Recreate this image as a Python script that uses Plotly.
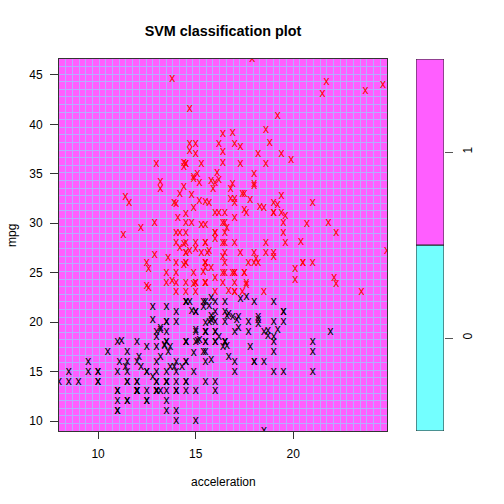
import plotly.graph_objects as go
import numpy as np

# Auto dataset (ISLR), rows with missing horsepower removed: mpg and acceleration
mpg = [
    # 1970
    18, 15, 18, 16, 17, 15, 14, 14, 14, 15, 15, 14, 15, 14, 24, 22, 18, 21, 27, 26, 25, 24, 25, 26, 21, 10, 10, 11, 9,
    # 1971
    27, 28, 25, 19, 16, 17, 19, 18, 14, 14, 14, 14, 12, 13, 13, 18, 22, 19, 18, 23, 28, 30, 30, 31, 35, 27, 26,
    # 1972
    24, 25, 23, 20, 21, 13, 14, 15, 14, 17, 11, 13, 12, 13, 19, 15, 13, 13, 14, 18, 22, 21, 26, 22, 28, 23, 28, 27,
    # 1973
    13, 14, 13, 14, 15, 12, 13, 13, 14, 13, 12, 13, 18, 16, 18, 18, 23, 26, 11, 12, 13, 12, 18, 20, 21, 22, 18, 19,
    21, 26, 15, 16, 29, 24, 20, 19, 15, 24, 20, 11,
    # 1974
    20, 19, 15, 31, 26, 32, 25, 16, 16, 18, 16, 13, 14, 14, 14, 29, 26, 26, 31, 32, 28, 24, 26, 24, 26, 31,
    # 1975
    19, 18, 15, 15, 16, 15, 16, 14, 17, 16, 15, 18, 21, 20, 13, 29, 23, 20, 23, 24, 25, 24, 18, 29, 19, 23, 23, 22,
    25, 33,
    # 1976
    28, 25, 25, 26, 27, 17.5, 16, 15.5, 14.5, 22, 22, 24, 22.5, 29, 24.5, 29, 33, 20, 18, 18.5, 17.5, 29.5, 32, 28,
    26.5, 20, 13, 19, 19, 16.5, 16.5, 13, 13, 13,
    # 1977
    31.5, 30, 36, 25.5, 33.5, 17.5, 17, 15.5, 15, 17.5, 20.5, 19, 18.5, 16, 15.5, 15.5, 16, 29, 24.5, 26, 25.5, 30.5,
    33.5, 30, 30.5, 22, 21.5, 21.5,
    # 1978
    43.1, 36.1, 32.8, 39.4, 36.1, 19.9, 19.4, 20.2, 19.2, 20.5, 20.2, 25.1, 20.5, 19.4, 20.6, 20.8, 18.6, 18.1, 19.2,
    17.7, 18.1, 17.5, 30.0, 27.5, 27.2, 30.9, 21.1, 23.2, 23.8, 23.9, 20.3, 17.0, 21.6, 16.2, 31.5, 29.5,
    # 1979
    21.5, 19.8, 22.3, 20.2, 20.6, 17.0, 17.6, 16.5, 18.2, 16.9, 15.5, 19.2, 18.5, 31.9, 34.1, 35.7, 27.4, 25.4, 23.0,
    27.2, 23.9, 34.2, 34.5, 31.8, 37.3, 28.4, 28.8, 26.8, 33.5,
    # 1980
    41.5, 38.1, 32.1, 37.2, 28.0, 26.4, 24.3, 19.1, 34.3, 29.8, 31.3, 37.0, 32.2, 46.6, 27.9, 40.8, 44.3, 43.4, 36.4,
    30.0, 44.6, 33.8, 29.8, 32.7, 23.7, 35.0, 32.4,
    # 1981
    27.2, 26.6, 25.8, 23.5, 30.0, 39.1, 39.0, 35.1, 32.3, 37.0, 37.7, 34.1, 34.7, 34.4, 29.9, 33.0, 33.7, 32.4, 32.9,
    31.6, 28.1, 30.7, 25.4, 24.2, 22.4, 26.6, 20.2, 17.6,
    # 1982
    28, 27, 34, 31, 29, 27, 24, 36, 37, 31, 38, 36, 36, 36, 34, 38, 32, 38, 25, 38, 26, 22, 32, 36, 27, 27, 44, 32,
    28, 31,
]

acceleration = [
    # 1970
    12.0, 11.5, 11.0, 12.0, 10.5, 10.0, 9.0, 8.5, 10.0, 8.5, 10.0, 8.0, 9.5, 10.0, 15.0, 15.5, 15.5, 16.0, 14.5, 20.5,
    17.5, 14.5, 17.5, 12.5, 15.0, 14.0, 15.0, 13.5, 18.5,
    # 1971
    14.5, 15.5, 14.0, 13.0, 15.5, 15.5, 15.5, 15.5, 12.0, 11.5, 13.5, 13.0, 11.5, 12.0, 12.0, 13.5, 19.0, 15.0, 14.5,
    14.0, 14.0, 19.5, 14.5, 19.0, 18.0, 19.0, 20.5,
    # 1972
    15.5, 17.0, 23.5, 19.5, 16.5, 12.0, 12.0, 13.5, 13.0, 11.5, 11.0, 13.5, 13.5, 12.5, 13.5, 12.5, 14.0, 16.0, 14.0,
    14.5, 18.0, 19.5, 18.0, 16.0, 17.0, 14.5, 15.0, 16.5,
    # 1973
    13.0, 11.5, 13.0, 14.5, 12.5, 11.5, 12.0, 13.0, 14.5, 11.0, 11.0, 11.0, 16.5, 18.0, 16.0, 16.5, 16.0, 21.0, 14.0,
    12.5, 13.0, 12.5, 15.0, 19.0, 19.5, 16.5, 13.5, 18.5, 14.0, 15.5, 13.0, 9.5, 19.5, 15.5, 14.0, 15.5, 11.0, 14.0,
    13.5, 11.0,
    # 1974
    16.5, 16.0, 17.0, 19.0, 16.5, 21.0, 17.0, 17.0, 18.0, 16.5, 14.0, 14.5, 13.5, 16.0, 15.5, 16.5, 15.5, 14.5, 16.5,
    19.0, 14.5, 15.5, 14.0, 15.0, 15.5, 16.0,
    # 1975
    16.0, 16.0, 21.0, 19.5, 11.5, 14.0, 14.5, 13.5, 21.0, 18.5, 19.0, 19.0, 15.0, 13.5, 12.0, 16.0, 17.0, 16.0, 18.5,
    13.5, 16.5, 17.0, 14.5, 14.0, 17.0, 15.0, 17.0, 14.5, 13.5, 17.5,
    # 1976
    15.5, 16.9, 14.9, 17.7, 15.3, 13.0, 13.0, 13.9, 12.8, 15.4, 14.5, 17.6, 17.6, 22.2, 22.1, 14.2, 17.4, 17.7, 21.0,
    16.2, 17.8, 12.2, 17.0, 16.4, 13.6, 15.7, 13.2, 21.9, 15.5, 16.7, 12.1, 12.0, 15.0, 14.0,
    # 1977
    18.5, 14.8, 18.6, 15.5, 16.8, 12.5, 19.0, 13.7, 14.9, 16.4, 16.9, 17.7, 19.0, 11.1, 11.4, 12.2, 14.5, 14.5, 16.0,
    18.2, 15.8, 17.0, 15.9, 16.4, 14.1, 14.5, 12.8, 13.5,
    # 1978
    21.5, 14.4, 19.4, 18.6, 16.4, 15.5, 13.2, 12.8, 19.2, 18.2, 15.8, 15.4, 17.2, 17.2, 15.8, 16.7, 18.7, 15.1, 13.2,
    13.4, 11.2, 13.7, 16.5, 14.2, 14.7, 14.5, 14.8, 16.7, 17.6, 14.9, 15.9, 13.6, 15.7, 15.8, 14.9, 16.6,
    # 1979
    15.4, 18.2, 17.3, 18.2, 16.6, 15.4, 13.4, 13.2, 15.2, 14.9, 14.3, 15.0, 13.0, 14.0, 15.2, 14.4, 15.0, 20.1, 17.4,
    24.8, 22.2, 13.2, 14.9, 19.2, 14.7, 16.0, 11.3, 12.9, 13.2,
    # 1980
    14.7, 18.8, 15.5, 16.4, 16.5, 18.1, 20.1, 18.7, 15.8, 15.5, 17.5, 15.0, 15.2, 17.9, 14.4, 19.2, 21.7, 23.7, 19.9,
    21.8, 13.8, 18.0, 15.3, 11.4, 12.5, 15.1, 17.0,
    # 1981
    15.7, 16.4, 14.4, 12.6, 12.9, 16.9, 16.4, 16.1, 17.8, 19.4, 17.3, 16.0, 14.9, 16.2, 20.7, 14.2, 14.4, 16.8, 14.8,
    18.3, 20.4, 19.6, 12.6, 13.8, 15.8, 19.0, 17.1, 16.6,
    # 1982
    19.6, 18.6, 18.0, 16.2, 16.0, 18.0, 16.4, 15.3, 18.2, 17.6, 14.7, 17.3, 14.5, 14.5, 16.9, 15.0, 15.7, 16.2, 16.4,
    17.0, 14.5, 14.7, 13.9, 13.0, 17.3, 15.6, 24.6, 11.6, 18.6, 19.4,
]

class_labels = ["0", "1"]
class_fill = ["#73FFFF", "#FF5EFF"]
point_colors = ["black", "red"]
x_ticks = [10, 15, 20]
y_ticks = [10, 15, 20, 25, 30, 35, 40, 45]
grid_n = 50

mpg_a = np.array(mpg, dtype=float)
acc_a = np.array(acceleration, dtype=float)
cls = (mpg_a > np.median(mpg_a)).astype(int)

xmin, xmax = acc_a.min(), acc_a.max()
ymin, ymax = mpg_a.min(), mpg_a.max()

W = H = 504
ml, mr, mt, mb = 59, 60, 59, 73
pw = W - ml - mr
x_main_end = (387 - ml) / pw
x_leg0 = (416 - ml) / pw

fig = go.Figure()

for k in (0, 1):
    sel = cls == k
    fig.add_trace(go.Scatter(
        x=acc_a[sel], y=mpg_a[sel], mode="text", text=["x"] * int(sel.sum()),
        textposition="middle center",
        textfont=dict(family="Liberation Sans, Arial", size=12, color=point_colors[k]),
        hoverinfo="skip", showlegend=False, xaxis="x", yaxis="y"))

# class legend box
for k in (0, 1):
    fig.add_trace(go.Bar(
        x=[0], y=[1], base=[k], width=[1], marker=dict(color=class_fill[k], line=dict(color="#222", width=1)),
        hoverinfo="skip", showlegend=False, xaxis="x2", yaxis="y2"))

gridcol = "rgb(182,172,255)"
fig.update_layout(
    width=W, height=H, margin=dict(l=ml, r=mr, t=mt, b=mb, autoexpand=False),
    paper_bgcolor="white", plot_bgcolor=class_fill[1],
    barmode="overlay",
    xaxis=dict(domain=[0, x_main_end], range=[xmin, xmax], tickvals=x_ticks, ticks="outside", ticklen=7,
               tickcolor="#333", showline=True, mirror=True, linecolor="#333", linewidth=1,
               zeroline=False, showgrid=False, ticklabelstandoff=5,
               tickfont=dict(family="Liberation Sans, Arial", size=12, color="black"),
               minor=dict(tick0=xmin, dtick=(xmax - xmin) / (grid_n - 1), showgrid=True,
                          gridcolor=gridcol, gridwidth=1, ticks=""),
               fixedrange=True),
    yaxis=dict(range=[ymin, ymax], tickvals=y_ticks, ticks="outside", ticklen=8, tickcolor="#333",
               showline=True, mirror=True, linecolor="#333", linewidth=1, zeroline=False, showgrid=False,
               ticklabelstandoff=5, tickangle=0,
               tickfont=dict(family="Liberation Sans, Arial", size=12, color="black"),
               minor=dict(tick0=ymin, dtick=(ymax - ymin) / (grid_n - 1), showgrid=True,
                          gridcolor=gridcol, gridwidth=1, ticks=""),
               fixedrange=True),
    xaxis2=dict(domain=[x_leg0, 1], range=[-0.5, 0.5], showticklabels=False, ticks="", showgrid=False,
                zeroline=False, showline=False, anchor="y2"),
    yaxis2=dict(range=[0, 2], anchor="x2", side="right", tickvals=[0.5, 1.5], ticktext=class_labels,
                ticks="outside", ticklen=8, tickcolor="#555", showgrid=False, zeroline=False, showline=False,
                tickangle=-90, ticklabelstandoff=5,
                tickfont=dict(family="Liberation Sans, Arial", size=12, color="black")),
    title=dict(text="<b>SVM classification plot</b>", x=223 / W, xanchor="center", y=1 - 31 / H,
               yanchor="middle", yref="container",
               font=dict(family="Liberation Sans, Arial", size=14.4, color="black")),
    annotations=[
        dict(text="acceleration", xref="paper", yref="paper", x=(223 - ml) / pw, y=-(482 - (H - mb)) / (H - mt - mb),
             xanchor="center", yanchor="middle", showarrow=False,
             font=dict(family="Liberation Sans, Arial", size=12, color="black")),
        dict(text="mpg", xref="paper", yref="paper", x=-(ml - 12) / pw, y=1 - (236 - mt) / (H - mt - mb),
             xanchor="center", yanchor="middle", textangle=-90, showarrow=False,
             font=dict(family="Liberation Sans, Arial", size=12, color="black")),
    ],
)

fig.write_html("out.html")
